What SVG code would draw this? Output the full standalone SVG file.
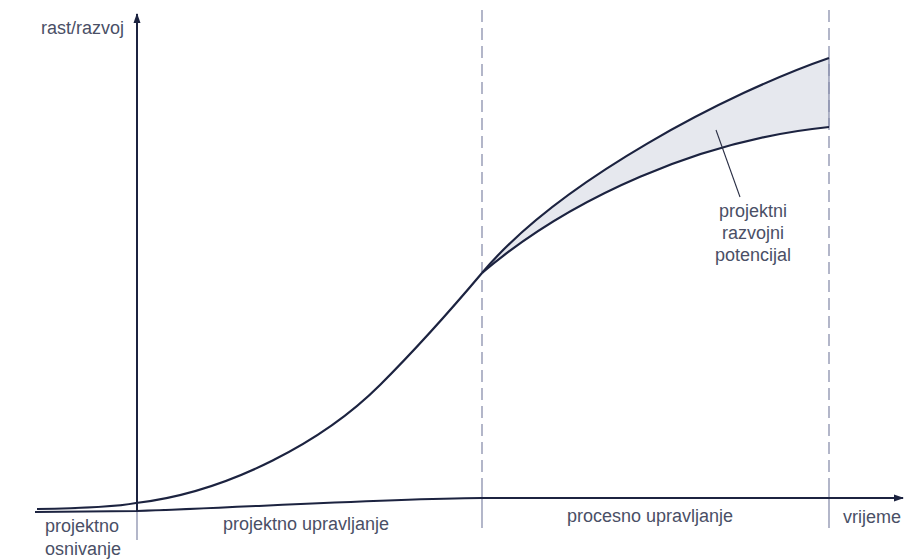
<svg xmlns="http://www.w3.org/2000/svg" width="905" height="560" viewBox="0 0 905 560">
<style>
.lbl{font-family:"Liberation Sans",Arial,sans-serif;font-size:18px;fill:#4a4f66}
.axis{fill:none;stroke:#1c2340;stroke-width:2}
.curve{fill:none;stroke:#1c2340;stroke-width:2.2}
.dash{fill:none;stroke:#8a90ad;stroke-width:1.3;stroke-dasharray:12 6}
.thin{fill:none;stroke:#8a90ad;stroke-width:1.3}
</style>
<defs>
<marker id="arr" viewBox="0 0 10 10" refX="9" refY="5" markerWidth="10" markerHeight="10" markerUnits="userSpaceOnUse" orient="auto">
<path d="M0,1.5 L10,5 L0,8.5 Z" fill="#1c2340"/>
</marker>
</defs>
<rect width="905" height="560" fill="#ffffff"/>
<g id="potential-area">
<path d="M482,273 C560,180 730,92 829,58 L829,127 C700,140 570,198 482,273 Z" fill="#e6e8ee" stroke="none"/>
</g>
<g id="guides">
<line class="dash" x1="482" y1="10" x2="482" y2="487"/>
<line class="thin" x1="482" y1="487" x2="482" y2="528"/>
<line class="dash" x1="829" y1="10" x2="829" y2="487"/>
<line class="thin" x1="829" y1="58" x2="829" y2="127"/>
<line class="thin" x1="829" y1="487" x2="829" y2="528"/>
<line class="thin" x1="137" y1="511" x2="137" y2="540"/>
</g>
<g id="connectors">
<line class="axis" x1="137" y1="511" x2="137" y2="14" marker-end="url(#arr)"/>
<path class="axis" d="M35,512 L137,511 C250,507 380,499 482,498 L903,498" marker-end="url(#arr)"/>
<path class="curve" d="M37,509 C70,508.5 115,507 136,503 C230,492 325,440 380,385 C420,345 455,305 482,273"/>
<path id="upper" class="curve" d="M482,273 C560,180 730,92 829,58"/>
<path id="lower" class="curve" d="M482,273 C570,198 700,140 829,127"/>
<line x1="716" y1="130" x2="740" y2="197" stroke="#2a2f45" stroke-width="1.1"/>
</g>
<g id="labels">
<text class="lbl" x="41" y="34">rast/razvoj</text>
<text class="lbl" x="753" y="217" text-anchor="middle">projektni</text>
<text class="lbl" x="753" y="239" text-anchor="middle">razvojni</text>
<text class="lbl" x="753" y="261" text-anchor="middle">potencijal</text>
<text class="lbl" x="45" y="532">projektno</text>
<text class="lbl" x="45" y="555">osnivanje</text>
<text class="lbl" x="223" y="530">projektno upravljanje</text>
<text class="lbl" x="567" y="522">procesno upravljanje</text>
<text class="lbl" x="843" y="523">vrijeme</text>
</g>
</svg>
